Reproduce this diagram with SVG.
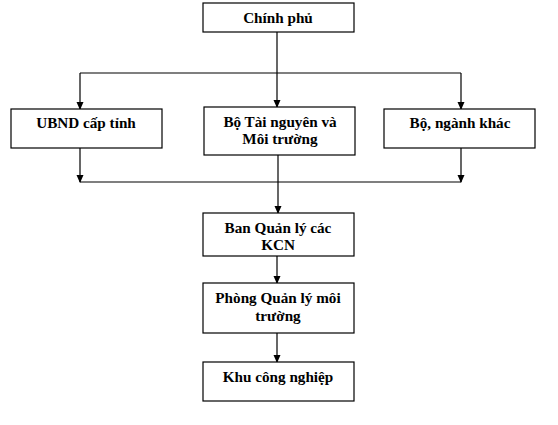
<svg xmlns="http://www.w3.org/2000/svg" width="558" height="425" viewBox="0 0 558 425">
<defs>
<marker id="arr" markerWidth="8" markerHeight="8" refX="7" refY="4" orient="auto" markerUnits="userSpaceOnUse">
<path d="M0,0.5 L8,4 L0,7.5 Z" fill="#000"/>
</marker>
<style>
.box{fill:#fff;stroke:#000;stroke-width:1.2}
.t{font-family:"Liberation Serif","Times New Roman",serif;font-weight:bold;font-size:15.2px;text-anchor:middle;fill:#000}
.c{fill:none;stroke:#000;stroke-width:1.2}
</style>
</defs>
<rect width="558" height="425" fill="#fff"/>
<g id="connectors">
<line class="c" x1="277" y1="32" x2="277" y2="107" marker-end="url(#arr)"/>
<line class="c" x1="80" y1="73" x2="461" y2="73"/>
<line class="c" x1="80" y1="73" x2="80" y2="109" marker-end="url(#arr)"/>
<line class="c" x1="461" y1="73" x2="461" y2="109" marker-end="url(#arr)"/>
<line class="c" x1="80" y1="148" x2="80" y2="182" marker-end="url(#arr)"/>
<line class="c" x1="461" y1="148" x2="461" y2="182" marker-end="url(#arr)"/>
<line class="c" x1="80" y1="182" x2="461" y2="182"/>
<line class="c" x1="278" y1="155" x2="278" y2="213" marker-end="url(#arr)"/>
<line class="c" x1="277" y1="256" x2="277" y2="283" marker-end="url(#arr)"/>
<line class="c" x1="277" y1="333" x2="277" y2="362" marker-end="url(#arr)"/>
</g>
<g id="chinh-phu">
<rect class="box" x="203" y="3" width="151" height="29"/>
<text class="t" x="278" y="23">Chính phủ</text>
</g>
<g id="ubnd">
<rect class="box" x="11" y="109" width="151" height="39"/>
<text class="t" x="86" y="128">UBND cấp tỉnh</text>
</g>
<g id="bo-tnmt">
<rect class="box" x="204" y="107" width="151" height="48"/>
<text class="t" x="280" y="127">Bộ Tài nguyên và</text>
<text class="t" x="280" y="144">Môi trường</text>
</g>
<g id="bo-nganh">
<rect class="box" x="384" y="109" width="151" height="39"/>
<text class="t" x="460" y="128">Bộ, ngành khác</text>
</g>
<g id="ban-ql">
<rect class="box" x="203" y="213" width="151" height="43"/>
<text class="t" x="278" y="233">Ban Quản lý các</text>
<text class="t" x="278" y="250">KCN</text>
</g>
<g id="phong-ql">
<rect class="box" x="203" y="283" width="151" height="50"/>
<text class="t" x="278" y="303">Phòng Quản lý môi</text>
<text class="t" x="278" y="321">trường</text>
</g>
<g id="khu-cn">
<rect class="box" x="203" y="362" width="151" height="39"/>
<text class="t" x="278" y="382">Khu công nghiệp</text>
</g>
</svg>
